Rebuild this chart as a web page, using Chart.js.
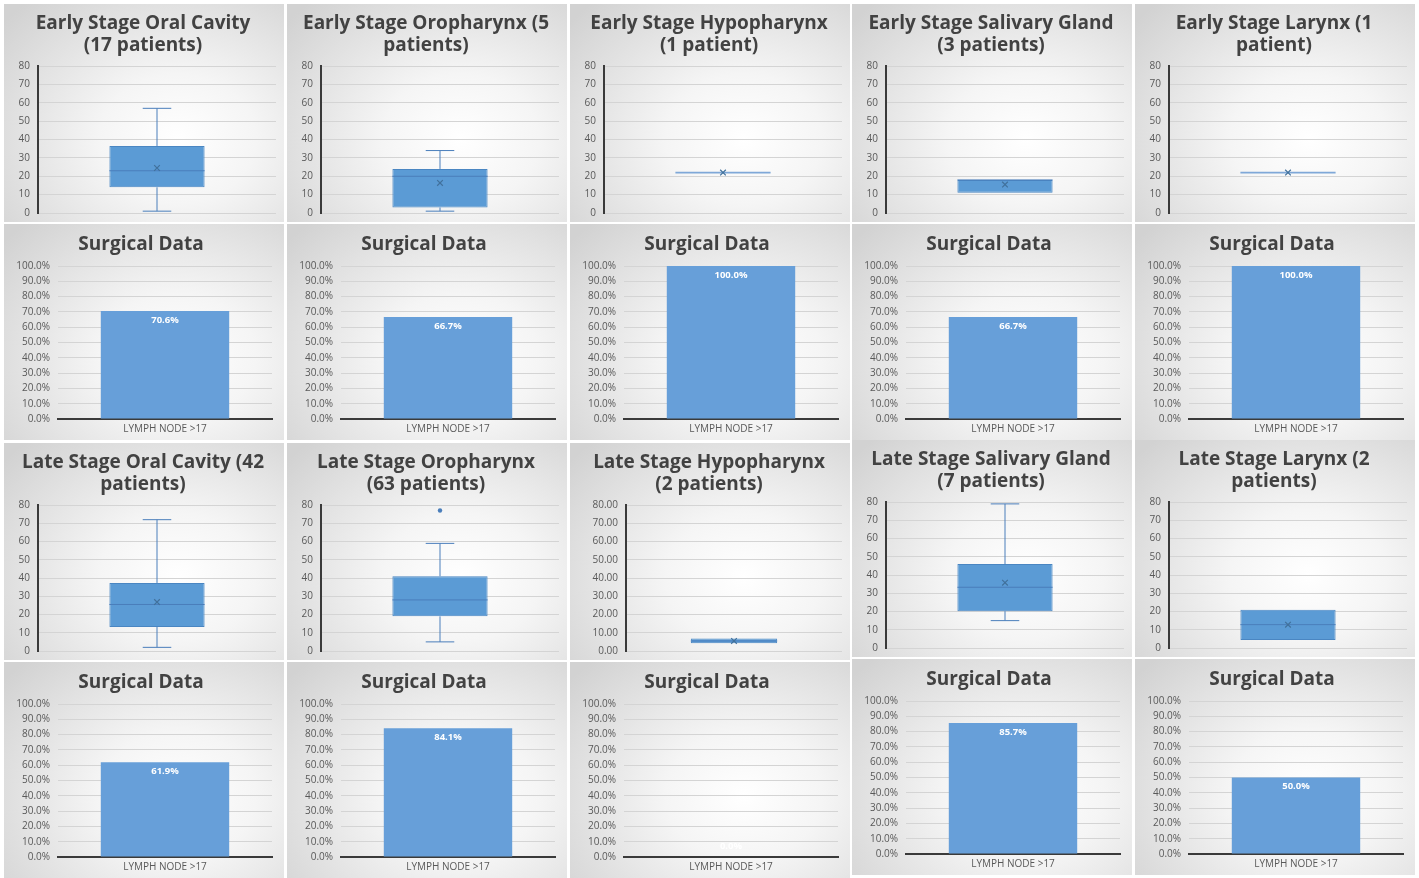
<!DOCTYPE html>
<html>
<head>
<meta charset="utf-8">
<script src="https://cdn.jsdelivr.net/npm/chart.js@4.4.1/dist/chart.umd.min.js"></script>
<style>
  html, body { margin: 0; padding: 0; background: #ffffff; }
  body { width: 1419px; height: 878px; position: relative; overflow: hidden; }
  .panel {
    position: absolute;
    background: radial-gradient(ellipse 80% 85% at 62% 62%, #ffffff 0%, #f5f5f5 35%, #d2d2d2 100%);
  }
  .panel canvas { position: absolute; left: 0; top: 0; }
</style>
</head>
<body>
<script>
// ---- Box plot panels: lymph nodes examined per site ----
const earlyTitles = [
  ['Early Stage Oral Cavity', '(17 patients)'],
  ['Early Stage Oropharynx (5', 'patients)'],
  ['Early Stage Hypopharynx', '(1 patient)'],
  ['Early Stage Salivary Gland', '(3 patients)'],
  ['Early Stage Larynx (1', 'patient)']
];
const lateTitles = [
  ['Late Stage Oral Cavity (42', 'patients)'],
  ['Late Stage Oropharynx', '(63 patients)'],
  ['Late Stage Hypopharynx', '(2 patients)'],
  ['Late Stage Salivary Gland', '(7 patients)'],
  ['Late Stage Larynx (2', 'patients)']
];

const earlyMin    = [1,    1,    22, 11,   22];
const earlyQ1     = [14,   3,    22, 11,   22];
const earlyMedian = [23,   20,   22, 18,   22];
const earlyQ3     = [36.5, 24,   22, 18,   22];
const earlyMax    = [57,   34,   22, 18,   22];
const earlyMean   = [24.5, 16.4, 22, 15.5, 22];
const earlyOutliers = [[], [], [], [], []];

// mean marker is not shown for the late oropharynx box
const lateMin    = [2,    5,    4.2, 15,   4.4];
const lateQ1     = [13.2, 19,   4.2, 20.2, 4.4];
const lateMedian = [25.5, 28,   5.5, 33.3, 12.8];
const lateQ3     = [37.3, 41,   6.9, 46,   21];
const lateMax    = [72,   59,   6.9, 79,   21];
const lateMean   = [26.8, null, 5.5, 35.8, 12.8];
const lateOutliers = [[], [77], [], [], []];

const boxTicks = [0, 10, 20, 30, 40, 50, 60, 70, 80];
const boxTickDecimals = [[0, 0, 0, 0, 0], [0, 0, 2, 0, 0]];

// ---- Bar panels: surgical data ----
const surgicalTitle = 'Surgical Data';
const barCategories = ['LYMPH NODE >17'];
const earlyPct = [70.6, 66.7, 100.0, 66.7, 100.0];
const latePct  = [61.9, 84.1, 0.0,   85.7, 50.0];
const pctTicks = [0, 10, 20, 30, 40, 50, 60, 70, 80, 90, 100];

// ---- Page layout ----
const colLefts = [4, 287, 570, 852, 1135];
const colWidth = 280;
const rowTops = [4, 224, 443, 662];
const rowHeights = [218, 216, 217, 216];
const lowerShift = [0, 0, 0, -3, -3];
// box canvases run a few pixels past their panel so the 0 tick's label sits in the gap below
const boxCanvasExtra = 5;

const FONT = "'Open Sans', 'DejaVu Sans', sans-serif";
const TITLE_COLOR = '#424242';
const TICK_COLOR = '#595959';
const GRID_COLOR = '#d4d4d4';
const AXIS_COLOR = '#3a3a3a';
const BOX_FILL = '#5b9bd5';
const BOX_EDGE = '#4a86c2';
const WHISKER = '#4a7ebb';
const BAR_FILL = '#679fd9';

Chart.defaults.font.family = FONT;

function makePanel(left, top, w, h, extra) {
  const div = document.createElement('div');
  div.className = 'panel';
  div.style.left = left + 'px';
  div.style.top = top + 'px';
  div.style.width = w + 'px';
  div.style.height = h + 'px';
  const ch = h + (extra || 0);
  const cv = document.createElement('canvas');
  cv.width = w; cv.height = ch;
  cv.style.width = w + 'px'; cv.style.height = ch + 'px';
  div.appendChild(cv);
  document.body.appendChild(div);
  return cv;
}

// Whiskers, caps and median line drawn on top of the box bar
const boxWhiskerPlugin = {
  id: 'boxWhisker',
  afterDatasetDraw(chart, args, opts) {
    if (args.index !== 0 || !opts || opts.median === undefined) return;
    const bar = args.meta.data[0];
    const ys = chart.scales.y;
    const ctx = chart.ctx;
    const py = v => ys.getPixelForValue(v);
    const cx = bar.x, half = bar.width / 2, cap = bar.width * 0.15;
    ctx.save();
    ctx.lineWidth = 1;
    ctx.strokeStyle = WHISKER;
    ctx.beginPath();
    if (opts.max > opts.q3) {
      ctx.moveTo(cx, py(opts.q3)); ctx.lineTo(cx, py(opts.max));
      ctx.moveTo(cx - cap, py(opts.max)); ctx.lineTo(cx + cap, py(opts.max));
    }
    if (opts.min < opts.q1) {
      ctx.moveTo(cx, py(opts.q1)); ctx.lineTo(cx, py(opts.min));
      ctx.moveTo(cx - cap, py(opts.min)); ctx.lineTo(cx + cap, py(opts.min));
    }
    ctx.stroke();
    ctx.beginPath();
    if (opts.q1 === opts.q3) {
      ctx.strokeStyle = '#7fa8d8';
      ctx.lineWidth = 1.6;
    }
    ctx.moveTo(cx - half, py(opts.median));
    ctx.lineTo(cx + half, py(opts.median));
    ctx.stroke();
    ctx.restore();
  }
};

// Value label placed inside the top of each bar
const barValuePlugin = {
  id: 'barValue',
  afterDatasetsDraw(chart, args, opts) {
    if (!opts || !opts.show) return;
    const meta = chart.getDatasetMeta(0);
    const ctx = chart.ctx;
    ctx.save();
    ctx.font = 'bold 9.5px ' + FONT;
    ctx.fillStyle = '#ffffff';
    ctx.textAlign = 'center';
    ctx.textBaseline = 'middle';
    meta.data.forEach((el, i) => {
      const v = chart.data.datasets[0].data[i];
      const y = v > 0 ? el.y + 9 : el.base - 11;
      ctx.fillText(v.toFixed(1) + '%', el.x, y);
    });
    ctx.restore();
  }
};

function titleOpts(text, padTop, padBottom) {
  return {
    display: true,
    text: text,
    color: TITLE_COLOR,
    font: { family: FONT, size: 19, weight: 'bold', lineHeight: 1.16 },
    padding: { top: padTop, bottom: padBottom }
  };
}

function boxChart(canvas, title, s, decimals) {
  return new Chart(canvas, {
    type: 'bar',
    data: {
      labels: [''],
      datasets: [
        {
          type: 'bar',
          data: [[s.q1, s.q3]],
          backgroundColor: BOX_FILL,
          borderColor: BOX_EDGE,
          borderWidth: 1,
          borderSkipped: false,
          barPercentage: 0.4,
          categoryPercentage: 1,
          order: 2
        },
        {
          type: 'line',
          data: [s.mean],
          showLine: false,
          pointStyle: 'crossRot',
          pointRadius: 4,
          pointBorderWidth: 1.2,
          pointBorderColor: '#41719c',
          order: 0
        },
        {
          type: 'line',
          data: s.outliers.length ? s.outliers : [null],
          showLine: false,
          pointStyle: 'circle',
          pointRadius: 2.2,
          pointBorderWidth: 0,
          pointBackgroundColor: '#4a7ebb',
          order: 1
        }
      ]
    },
    options: {
      responsive: false,
      animation: false,
      events: [],
      layout: { padding: { left: 6, right: 8, top: 0, bottom: 0 } },
      plugins: {
        legend: { display: false },
        tooltip: { enabled: false },
        title: titleOpts(title, 9, 9),
        boxWhisker: { min: s.min, q1: s.q1, median: s.median, q3: s.q3, max: s.max }
      },
      scales: {
        x: { display: false },
        y: {
          min: 0, max: 80,
          afterBuildTicks: sc => { sc.ticks = boxTicks.map(v => ({ value: v })); },
          afterFit: sc => { sc.width = decimals ? 50 : 28; },
          ticks: {
            color: TICK_COLOR,
            font: { size: 10 },
            padding: 8,
            autoSkip: false,
            callback: v => Number(v).toFixed(decimals)
          },
          grid: { color: GRID_COLOR, drawTicks: false, lineWidth: 1 },
          border: { display: true, color: AXIS_COLOR, width: 2 }
        }
      }
    },
    plugins: [boxWhiskerPlugin]
  });
}

function barChart(canvas, pct) {
  return new Chart(canvas, {
    type: 'bar',
    data: {
      labels: barCategories,
      datasets: [{
        data: [pct],
        backgroundColor: BAR_FILL,
        borderWidth: 0,
        barPercentage: 0.6,
        categoryPercentage: 1
      }]
    },
    options: {
      responsive: false,
      animation: false,
      events: [],
      layout: { padding: { left: 6, right: 12, top: 0, bottom: 1 } },
      plugins: {
        legend: { display: false },
        tooltip: { enabled: false },
        title: titleOpts(surgicalTitle, 10, 10),
        barValue: { show: true }
      },
      scales: {
        x: {
          grid: { display: false, drawTicks: false },
          border: { display: true, color: AXIS_COLOR, width: 2 },
          ticks: { color: TICK_COLOR, font: { size: 10 }, padding: 4 }
        },
        y: {
          min: 0, max: 100,
          afterBuildTicks: sc => { sc.ticks = pctTicks.map(v => ({ value: v })); },
          afterFit: sc => { sc.width = 48; },
          ticks: {
            color: TICK_COLOR,
            font: { size: 10 },
            padding: 8,
            autoSkip: false,
            callback: v => Number(v).toFixed(1) + '%'
          },
          grid: { color: GRID_COLOR, drawTicks: false },
          border: { display: false }
        }
      }
    },
    plugins: [barValuePlugin]
  });
}

const stages = [
  { titles: earlyTitles, min: earlyMin, q1: earlyQ1, median: earlyMedian, q3: earlyQ3, max: earlyMax, mean: earlyMean, outliers: earlyOutliers, pct: earlyPct },
  { titles: lateTitles,  min: lateMin,  q1: lateQ1,  median: lateMedian,  q3: lateQ3,  max: lateMax,  mean: lateMean,  outliers: lateOutliers,  pct: latePct }
];

stages.forEach((st, si) => {
  for (let c = 0; c < 5; c++) {
    const shift = si === 1 ? lowerShift[c] : 0;
    const boxRow = si * 2, barRow = si * 2 + 1;
    const boxCanvas = makePanel(colLefts[c], rowTops[boxRow] + shift, colWidth, rowHeights[boxRow], boxCanvasExtra);
    boxChart(boxCanvas, st.titles[c], {
      min: st.min[c], q1: st.q1[c], median: st.median[c], q3: st.q3[c],
      max: st.max[c], mean: st.mean[c], outliers: st.outliers[c]
    }, boxTickDecimals[si][c]);
    const barCanvas = makePanel(colLefts[c], rowTops[barRow] + shift, colWidth, rowHeights[barRow]);
    barChart(barCanvas, st.pct[c]);
  }
});
</script>
</body>
</html>
